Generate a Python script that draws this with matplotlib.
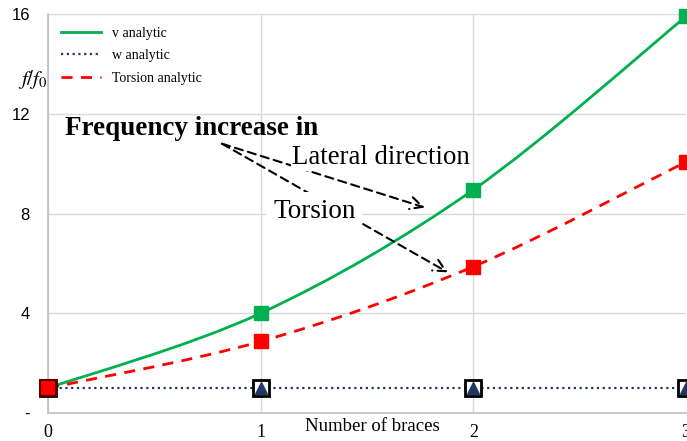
''' frequency ratio vs number of braces, recreated from an Excel chart '''

import matplotlib
matplotlib.use('Agg')
import matplotlib.pyplot as plt
from matplotlib.path import Path
from matplotlib.patches import PathPatch
from matplotlib.lines import Line2D

plt.rcParams['mathtext.fontset'] = 'stix'

# data
braces = [0, 1, 2, 3]
v_analytic = [1.0, 4.0, 8.95, 15.9]
w_analytic = [1.0, 1.0, 1.0, 1.0]
torsion_analytic = [1.0, 2.87, 5.87, 10.07]
y_ticks = [0, 4, 8, 12, 16]
y_tick_labels = ['-', '4', '8', '12', '16']
x_ticks = [0, 1, 2, 3]

GREEN = '#00B050'
RED = '#FF0000'
NAVY = '#1F3864'
SERIF = 'Liberation Serif'


def smooth_path(xs, ys):
    ''' Excel-like smoothed line: cubic bezier through the points '''
    pts = list(zip(xs, ys))
    verts = [pts[0]]
    codes = [Path.MOVETO]
    for i in range(len(pts) - 1):
        p0 = pts[i - 1] if i > 0 else pts[i]
        p1 = pts[i]
        p2 = pts[i + 1]
        p3 = pts[i + 2] if i + 2 < len(pts) else pts[i + 1]
        c1 = (p1[0] + (p2[0] - p0[0]) / 6, p1[1] + (p2[1] - p0[1]) / 6)
        c2 = (p2[0] - (p3[0] - p1[0]) / 6, p2[1] - (p3[1] - p1[1]) / 6)
        verts += [c1, c2, p2]
        codes += [Path.CURVE4] * 3
    return Path(verts, codes)


fig = plt.figure(figsize=(6.87, 4.41), dpi=100)
ax = fig.add_axes([48 / 687, 28 / 441, 638 / 687, 399 / 441])

# smoothed lines
ax.add_patch(PathPatch(smooth_path(braces, v_analytic), fill=False,
                       edgecolor=GREEN, lw=2, zorder=3))
ax.add_patch(PathPatch(smooth_path(braces, torsion_analytic), fill=False,
                       edgecolor=RED, lw=2, ls=(0, (4, 3)), zorder=3))
ax.plot(braces, w_analytic, color=NAVY, lw=1.6, ls=(0, (1, 1.6)), zorder=3)

# markers
ax.plot(braces, w_analytic, ls='none', marker='s', ms=11, mfc='white',
        mec='black', mew=2, zorder=4, clip_on=False)
ax.plot(braces, w_analytic, ls='none', marker='^', ms=8, mfc=NAVY,
        mec=NAVY, zorder=5, clip_on=False)
ax.plot(braces, v_analytic, ls='none', marker='s', ms=10, mfc=GREEN,
        mec=GREEN, zorder=5, clip_on=False)
ax.plot(braces, torsion_analytic, ls='none', marker='s', ms=10, mfc=RED,
        mec=RED, zorder=5, clip_on=False)
# the first point keeps the dark outline of the w marker beneath it
ax.plot(braces[:1], torsion_analytic[:1], ls='none', marker='s', ms=11,
        mfc=RED, mec='#5A0000', mew=1.5, zorder=5, clip_on=False)

ax.set_xlim(0, 3)
ax.set_ylim(0, 16)
ax.set_xticks(x_ticks)
ax.set_yticks(y_ticks)
ax.set_yticklabels(y_tick_labels)
ax.tick_params(length=0)
ax.tick_params(axis='y', pad=13, labelsize=12)
ax.tick_params(axis='x', pad=8, labelsize=13)
for lab in ax.get_xticklabels():
    lab.set_fontfamily(SERIF)
for lab in ax.get_yticklabels():
    lab.set_fontfamily('Liberation Sans')

ax.grid(True, color='#D9D9D9', lw=1)
ax.set_axisbelow(True)
for side in ['top', 'right']:
    ax.spines[side].set_visible(False)
for side in ['left', 'bottom']:
    ax.spines[side].set_color('#BFBFBF')
    ax.spines[side].set_linewidth(1.2)

# axis labels
ax.text(-0.024, 0.835, r'$f/f_0$', transform=ax.transAxes, fontsize=15,
        ha='center', va='center')
ax.text(0.508, -0.033, 'Number of braces', transform=ax.transAxes,
        fontsize=13.5, family=SERIF, ha='center', va='center', clip_on=False,
        bbox=dict(fc='white', ec='none', pad=3), zorder=6)

# legend
handles = [Line2D([], [], color=GREEN, lw=2),
           Line2D([], [], color=NAVY, lw=1.6, ls=(0, (1, 1.6))),
           Line2D([], [], color=RED, lw=2, ls=(0, (4, 3)))]
ax.legend(handles, ['v analytic', 'w analytic', 'Torsion analytic'],
          loc='upper left', frameon=False, handlelength=2.9,
          labelspacing=0.7, prop={'family': SERIF, 'size': 10})

# annotations
arrow = dict(arrowstyle='->', ls=(0, (4, 2.5)), lw=1.5, color='black',
             mutation_scale=22, shrinkA=0, shrinkB=0)
ax.annotate('', xy=(1.772, 8.24), xytext=(0.818, 10.8), arrowprops=arrow,
            zorder=6)
ax.annotate('', xy=(1.88, 5.64), xytext=(0.818, 10.8), arrowprops=arrow,
            zorder=6)
ax.text(0.08, 11.4, 'Frequency increase in', family=SERIF, fontsize=19.5,
        fontweight='bold', va='center', zorder=7)
ax.text(1.147, 10.24, 'Lateral direction', family=SERIF, fontsize=19.3,
        va='center', zorder=7, bbox=dict(fc='white', ec='none', pad=1))
ax.text(1.058, 8.08, 'Torsion', family=SERIF, fontsize=19.5, va='center',
        zorder=7, bbox=dict(fc='white', ec='none', pad=5))

fig.savefig('out.png', dpi=100)
